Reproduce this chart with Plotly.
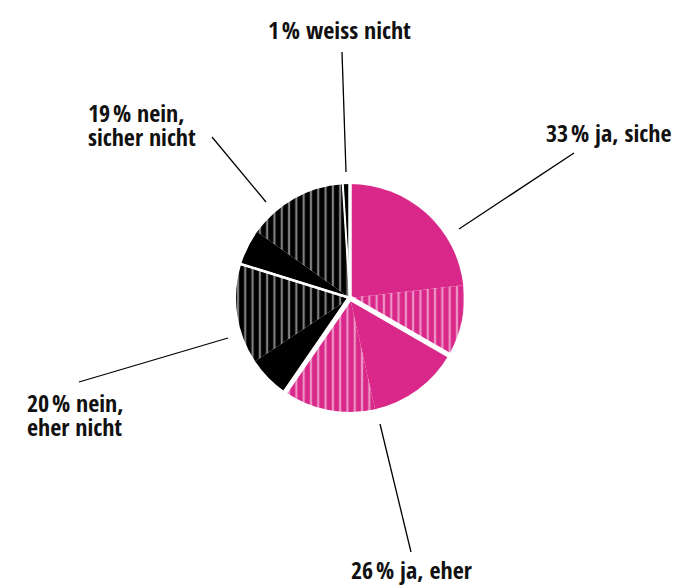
import plotly.graph_objects as go

# ---------------- data ----------------
categories = ["ja, sicher", "ja, eher", "nein, eher nicht", "nein, sicher nicht", "weiss nicht"]
shares = [33, 26, 20, 19, 1]                      # main answer shares (%)
solid_part = [23, 13, 6, 5, 1]                    # solid sub-segment of each answer (est.)
hatched_part = [10, 13, 14, 14, 0]                # hatched sub-segment of each answer (est.)
label_text = [
    ["ja, sicher"],
    ["ja, eher"],
    ["nein,", "eher nicht"],
    ["nein,", "sicher nicht"],
    ["weiss nicht"],
]

# ---------------- styling / layout ----------------
OFF = 8                       # page body margin
W, H = 679 - OFF, 588 - OFF   # figure size
PINK = "#d9288a"
BLACK = "#000000"
group_colors = [PINK, PINK, BLACK, BLACK, BLACK]
gap_widths = [3.5, 5, 2.5, 2, 1]
CX, CY, R = 350, 298, 114
FONT = "Open Sans Condensed, Open Sans, sans-serif"
FS = 24
NARROW = '<span style="font-size:11px"> </span>'

# label anchor (left x, baseline y) per line, in page pixels
label_pos = [
    [(544, 141.7)],
    [(349, 579)],
    [(25, 411.7), (25, 435.5)],
    [(85.5, 121.7), (85.5, 146)],
    [(265.5, 39.3)],
]
# leader lines (x0, y0, x1, y1) in page pixels
leaders = [
    (574, 153, 459, 229),
    (380, 424, 411, 552),
    (79, 382, 228, 338),
    (212, 137, 266, 202),
    (342, 52, 346, 172),
]


def px(x, y):
    return (x - OFF) / W, 1 - (y - OFF) / H


def domain(r):
    x0, y1 = px(CX - r, CY - r)
    x1, y0 = px(CX + r, CY + r)
    return dict(x=[x0, x1], y=[y0, y1])


sub_vals, sub_cols, sub_shapes, sub_names = [], [], [], []
for cat, s, h, col in zip(categories, solid_part, hatched_part, group_colors):
    sub_vals.append(s); sub_cols.append(col); sub_shapes.append(""); sub_names.append(cat + " (a)")
    if h > 0:
        sub_vals.append(h); sub_cols.append(col); sub_shapes.append("|"); sub_names.append(cat + " (b)")

fig = go.Figure()
fig.add_trace(go.Pie(
    labels=sub_names, values=sub_vals, sort=False, direction="clockwise", rotation=0,
    textinfo="none", hoverinfo="label+value",
    marker=dict(colors=sub_cols, line=dict(width=0),
                pattern=dict(shape=sub_shapes, fillmode="overlay", fgcolor="white",
                             size=7.3, solidity=0.3)),
    domain=domain(R), showlegend=False,
))
# overlay with white separators between answer groups
fig.add_trace(go.Pie(
    labels=categories, values=shares, sort=False, direction="clockwise", rotation=0,
    textinfo="none", hoverinfo="skip",
    marker=dict(colors=["rgba(0,0,0,0)"] * len(shares),
                line=dict(color="white", width=gap_widths)),
    domain=domain(R + 4), showlegend=False,
))

shapes = []
for x0, y0, x1, y1 in leaders:
    a0 = px(x0, y0); a1 = px(x1, y1)
    shapes.append(dict(type="line", xref="paper", yref="paper", x0=a0[0], y0=a0[1],
                       x1=a1[0], y1=a1[1], line=dict(color="black", width=1.3)))

annotations = []
for share, lines, poss in zip(shares, label_text, label_pos):
    for i, (txt, (lx, by)) in enumerate(zip(lines, poss)):
        if i == 0:
            txt = f"{share}{NARROW}% {txt}"
        ax, ay = px(lx, by - 0.388 * FS)
        annotations.append(dict(text=txt, xref="paper", yref="paper", x=ax, y=ay,
                                xanchor="left", yanchor="middle", showarrow=False,
                                font=dict(family=FONT, size=FS, color="#111", weight="bold")))

fig.update_layout(width=W, height=H, margin=dict(l=0, r=0, t=0, b=0),
                  paper_bgcolor="white", plot_bgcolor="white",
                  shapes=shapes, annotations=annotations)
fig.write_html("out.html")
